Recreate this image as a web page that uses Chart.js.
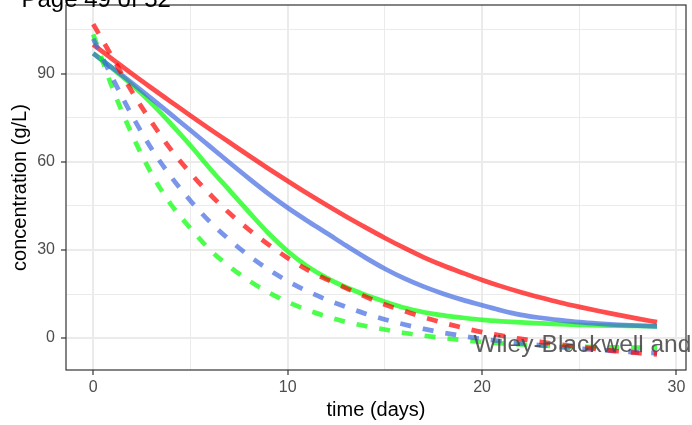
<!DOCTYPE html>
<html>
<head>
<meta charset="utf-8">
<script src="https://cdn.jsdelivr.net/npm/chart.js@4.4.1/dist/chart.umd.min.js"></script>
<style>
  html, body { margin: 0; padding: 0; background: #fff; }
  #wrap { width: 692px; height: 425px; position: relative; }
</style>
</head>
<body>
<div id="wrap"><canvas id="concChart"></canvas></div>
<script>
// time axis (days) and the six concentration curves (g/L)
const days = [0, 1, 2, 3, 4, 5, 6, 7, 8, 9, 10, 11, 12, 13, 14, 15, 16, 17, 18, 19, 20, 21, 22, 23, 24, 25, 26, 27, 28, 29];

const redSolid = [100, 95, 90, 85.2, 80.5, 75.8, 71.2, 66.7, 62.2, 57.8, 53.5, 49.3, 45.3, 41.4, 37.7, 34.1, 30.7, 27.5, 24.7, 22.2, 19.8, 17.6, 15.6, 13.8, 12.1, 10.6, 9.2, 7.9, 6.6, 5.4];
const blueSolid = [97, 92, 86.9, 81.6, 76.2, 70.8, 65.3, 59.8, 54.4, 49.2, 44.4, 40, 35.8, 31.5, 27.4, 23.6, 20.3, 17.5, 15.1, 13, 11.2, 9.4, 7.9, 6.9, 6.1, 5.4, 4.9, 4.5, 4.2, 4.0];
const greenSolid = [97, 91.8, 86.2, 80, 73, 65.6, 57.8, 50.4, 43, 35.8, 29.6, 24.5, 20.5, 17.3, 14.7, 12.4, 10.3, 8.8, 7.7, 6.9, 6.2, 5.7, 5.3, 5.0, 4.7, 4.5, 4.3, 4.2, 4.1, 4.0];
const redDashed = [107, 95.5, 83.9, 73.6, 64.2, 56.2, 49, 42.6, 37, 31.9, 27.3, 23.3, 20, 17, 14.1, 11.4, 9.2, 7.1, 5.2, 3.5, 2.0, 0.8, -0.3, -1.3, -2.2, -3.0, -3.8, -4.5, -5.1, -5.6];
const blueDashed = [102, 88.5, 75.8, 64.5, 55, 46.8, 39.6, 33.5, 28.1, 23.4, 19.4, 16, 13.1, 10.6, 8.3, 6.3, 4.6, 3.1, 1.8, 0.7, -0.3, -1.1, -1.8, -2.5, -3.1, -3.6, -4.1, -4.5, -4.9, -5.1];
const greenDashed = [103.5, 85, 69.3, 56, 45.5, 37.4, 30.1, 24.4, 19.6, 15.6, 12.3, 9.6, 7.4, 5.5, 4.1, 2.9, 1.7, 0.8, 0.0, -0.7, -1.3, -1.8, -2.2, -2.5, -2.8, -3.0, -3.1, -3.2, -3.3, -3.3];

const RED = 'rgba(255, 0, 0, 0.7)';
const BLUE = 'rgba(65, 105, 225, 0.7)';
const GREEN = 'rgba(0, 255, 0, 0.7)';
const FONT = "'Liberation Sans', Arial, sans-serif";

function toPoints(values) {
    return days.map((d, i) => ({ x: d, y: values[i] }));
}

function curve(values, color, dashed) {
    return {
        data: toPoints(values),
        borderColor: color,
        backgroundColor: color,
        borderWidth: 4.7,
        borderDash: dashed ? [11, 12] : [],
        pointRadius: 0,
        cubicInterpolationMode: 'monotone',
        fill: false
    };
}

// panel border and the page watermark text on top of everything
const overlayPlugin = {
    id: 'overlay',
    afterDraw(chart) {
        const ctx = chart.ctx;
        const a = chart.chartArea;
        ctx.save();
        ctx.strokeStyle = '#333333';
        ctx.lineWidth = 1.2;
        ctx.strokeRect(a.left, a.top, a.right - a.left, a.bottom - a.top);

        ctx.font = '24px ' + FONT;
        ctx.textBaseline = 'alphabetic';
        ctx.textAlign = 'left';
        ctx.fillStyle = '#000000';
        ctx.fillText('Page 49 of 52', 21.5, 7);
        ctx.fillStyle = 'rgba(75, 75, 75, 0.9)';
        ctx.font = '24.5px ' + FONT;
        ctx.fillText('Wiley-Blackwell and', 473.5, 352);
        ctx.restore();
    }
};

const gridColor = c => '#ebebeb';
const ctx = document.getElementById('concChart').getContext('2d');

new Chart(ctx, {
    type: 'line',
    data: {
        datasets: [
            curve(redDashed, RED, true),
            curve(blueDashed, BLUE, true),
            curve(greenDashed, GREEN, true),
            curve(redSolid, RED, false),
            curve(blueSolid, BLUE, false),
            curve(greenSolid, GREEN, false)
        ]
    },
    options: {
        responsive: true,
        maintainAspectRatio: false,
        animation: false,
        devicePixelRatio: 1,
        layout: { padding: { top: 5, right: 6, left: 0, bottom: 0 } },
        plugins: {
            legend: { display: false },
            tooltip: { enabled: false }
        },
        scales: {
            x: {
                type: 'linear',
                min: -1.4,
                max: 30.49,
                afterFit: s => { s.height = 55; s.paddingLeft = 0; s.paddingRight = 0; },
                border: { display: false },
                grid: {
                    color: gridColor,
                    lineWidth: c => (c.tick && c.tick.value % 10 === 0) ? 2 : 1,
                    tickLength: 5,
                    tickColor: c => (c.tick && c.tick.value % 10 === 0) ? '#333333' : 'rgba(0,0,0,0)',
                    tickWidth: 1.2
                },
                ticks: {
                    stepSize: 5,
                    includeBounds: false,
                    autoSkip: false,
                    maxRotation: 0,
                    padding: 3,
                    color: '#4d4d4d',
                    font: { family: FONT, size: 16 },
                    callback: v => (v % 10 === 0 ? v : '')
                },
                title: {
                    display: true,
                    text: 'time (days)',
                    color: '#000000',
                    font: { family: FONT, size: 20 },
                    padding: { top: 2, bottom: 3 }
                }
            },
            y: {
                type: 'linear',
                min: -10.9,
                max: 113.5,
                afterFit: s => { s.width = 66; s.paddingTop = 0; s.paddingBottom = 0; },
                border: { display: false },
                grid: {
                    color: gridColor,
                    lineWidth: c => (c.tick && c.tick.value % 30 === 0) ? 2 : 1,
                    tickLength: 5,
                    tickColor: c => (c.tick && c.tick.value % 30 === 0) ? '#333333' : 'rgba(0,0,0,0)',
                    tickWidth: 1.2
                },
                ticks: {
                    stepSize: 15,
                    includeBounds: false,
                    autoSkip: false,
                    padding: 6,
                    color: '#4d4d4d',
                    font: { family: FONT, size: 16 },
                    callback: v => (v % 30 === 0 ? v : '')
                },
                title: {
                    display: true,
                    text: 'concentration (g/L)',
                    color: '#000000',
                    font: { family: FONT, size: 20 },
                    padding: { top: 8, bottom: 0 }
                }
            }
        }
    },
    plugins: [overlayPlugin]
});
</script>
</body>
</html>
